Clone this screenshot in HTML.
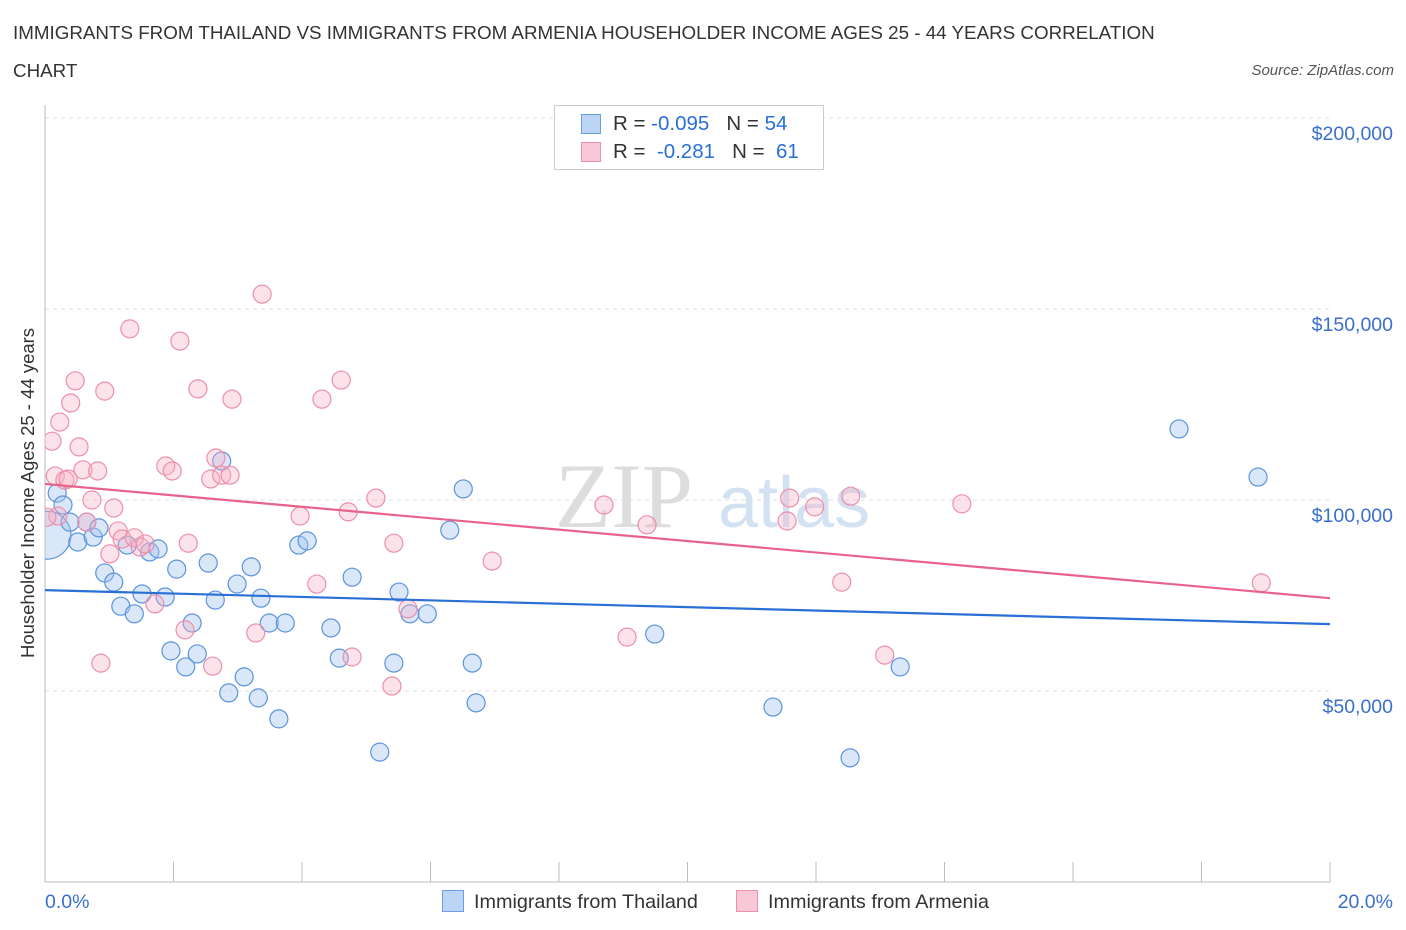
<!DOCTYPE html>
<html><head><meta charset="utf-8"><style>
body{margin:0;background:#fff;font-family:"Liberation Sans",sans-serif;}
#wrap{position:relative;width:1406px;height:930px;overflow:hidden;}
.t{position:absolute;white-space:nowrap;}
</style></head><body>
<div id="wrap">
<div class="t" style="left:13px;top:14px;font-size:18.8px;color:#333;line-height:38px;">IMMIGRANTS FROM THAILAND VS IMMIGRANTS FROM ARMENIA HOUSEHOLDER INCOME AGES 25 - 44 YEARS CORRELATION<br>CHART</div>
<div class="t" style="right:12px;top:62px;font-size:15px;font-style:italic;color:#555;">Source: ZipAtlas.com</div>
<svg id="svg" width="1406" height="930" style="position:absolute;left:0;top:0"></svg>
</div>
<script>
const blueX=[.03,.19,.28,.39,.51,.65,.75,.84,.93,1.07,1.18,1.28,1.39,1.51,1.63,1.76,1.87,1.96,2.05,2.19,2.29,2.37,2.54,2.65,2.75,2.86,2.99,3.10,3.21,3.32,3.36,3.49,3.64,3.74,3.95,4.08,4.45,4.58,4.78,5.21,5.43,5.51,5.68,5.95,6.30,6.51,6.65,6.71,9.49,11.33,12.53,13.31,17.65,18.88];
const blueY=[90.8,101.8,98.7,94.2,89.0,94.2,90.3,92.7,80.9,78.5,72.2,88.2,70.2,75.4,86.4,87.2,74.6,60.5,81.9,56.3,67.8,59.7,83.5,73.8,110.2,49.5,78.0,53.7,82.5,48.2,74.3,67.8,42.7,67.8,88.2,89.3,66.5,58.6,79.8,34.0,57.3,75.9,70.2,70.2,92.1,102.9,57.3,46.9,64.9,45.8,32.5,56.3,118.6,106.0];
const pinkX=[.11,.16,.20,.23,.31,.36,.40,.47,.53,.59,.65,.73,.82,.87,.93,1.01,1.07,1.14,1.20,1.32,1.39,1.48,1.56,1.71,1.88,1.98,2.10,2.18,2.23,2.38,2.58,2.61,2.66,2.75,2.88,2.91,3.28,3.38,3.97,4.23,4.31,4.61,4.72,4.78,5.15,5.40,5.43,5.65,6.96,8.70,9.06,9.37,11.55,11.59,11.98,12.40,12.54,13.07,14.27,18.93,0.03];
const pinkY=[115.4,106.3,95.8,120.4,105.2,105.5,125.4,131.2,113.9,107.9,94.2,100,107.6,57.3,128.5,85.9,97.9,91.9,89.8,144.8,90.1,87.7,88.5,72.8,108.9,107.6,141.6,66.0,88.7,129.1,105.5,56.5,111.0,106.5,106.5,126.4,65.2,153.9,95.8,78.0,126.4,131.4,96.9,58.9,100.5,51.3,88.7,71.5,84.0,98.7,64.1,93.5,94.5,100.5,98.2,78.5,101.0,59.4,99.0,78.3,95.5];
const blueTrend=[76.4,67.5];
const pinkTrend=[104.2,74.3];
const yTicks=[50,100,150,200];
const yTickLabels=["$50,000","$100,000","$150,000","$200,000"];
const xTickLabels=["0.0%","20.0%"];

const X=p=>45+p*64.25;
const Y=k=>500-(k-100)*191/50;
const svg=document.getElementById('svg');
const NS='http://www.w3.org/2000/svg';
function mk(tag,a,p){const e=document.createElementNS(NS,tag);for(const k in a)e.setAttribute(k,a[k]);(p||svg).appendChild(e);return e;}

let w1=mk('text',{x:555,y:527,'font-size':92,'font-family':'Liberation Serif',fill:'#ddd'});w1.textContent='ZIP';


let w2=mk('text',{x:718,y:527,'font-size':72,'font-family':'Liberation Sans',fill:'#d3e2f3'});w2.textContent='atlas';



yTicks.forEach((v,i)=>{
 const g=mk('line',{x1:45,x2:1330,y1:Y(v),y2:Y(v),stroke:'#ddd','stroke-dasharray':'4,4'});
 
 
 const t=mk('text',{x:1393,y:Y(v)+22,'text-anchor':'end','font-size':19.5,fill:'#3a6fcc'});
 t.textContent=yTickLabels[i];
 
 
});
const ax=mk('line',{x1:45,x2:45,y1:105,y2:882,stroke:'#bbb'});


const bx=mk('line',{x1:45,x2:1330,y1:882,y2:882,stroke:'#bbb'});


for(let i=0;i<=10;i++){const xx=45+i*128.5;const tk=mk('line',{x1:xx,x2:xx,y1:862,y2:882,stroke:'#bbb'});
 
 }
[[45,'start'],[1393,'end']].forEach((d,i)=>{const t=mk('text',{x:d[0],y:908,'text-anchor':d[1],'font-size':19.5,fill:'#3a6fcc'});t.textContent=xTickLabels[i];
 
 });
const yt=mk('text',{transform:'translate(34,493) rotate(-90)','text-anchor':'middle','font-size':18.5,fill:'#333'});yt.textContent='Householder Income Ages 25 - 44 years';



const clip=mk('clipPath',{id:'cp'});mk('rect',{x:45,y:100,width:1300,height:782},clip);
const gp=mk('g',{'clip-path':'url(#cp)'});


blueX.forEach((x,i)=>{const c=mk('circle',{cx:X(x),cy:Y(blueY[i]),r:i==0?24:9,fill:'rgba(160,196,240,0.4)',stroke:'#5b93dd','stroke-width':1.2},gp);
 
 });
pinkX.forEach((x,i)=>{const c=mk('circle',{cx:X(x),cy:Y(pinkY[i]),r:9,fill:'rgba(245,175,195,0.35)',stroke:'#ec8fab','stroke-width':1.2},gp);
 
 });
const l1=mk('line',{x1:X(0),x2:X(20),y1:Y(blueTrend[0]),y2:Y(blueTrend[1]),stroke:'#2a6fd6','stroke-width':2.2});


const l2=mk('line',{x1:X(0),x2:X(20),y1:Y(pinkTrend[0]),y2:Y(pinkTrend[1]),stroke:'#e8628c','stroke-width':2.2});


</script>
<div class="t" style="left:554px;top:105px;width:268px;height:63px;border:1px solid #ccc;background:#fff;font-size:20.5px;color:#333;">
 <div style="position:absolute;left:26px;top:8px;width:18px;height:18px;background:#bcd5f5;border:1px solid #6a9ee0"></div>
 <div style="position:absolute;left:58px;top:6px">R = <span style="color:#2a6fd6">-0.095</span>&nbsp;&nbsp;&nbsp;N = <span style="color:#2a6fd6">54</span></div>
 <div style="position:absolute;left:26px;top:36px;width:18px;height:18px;background:#f8c8d6;border:1px solid #ec8fab"></div>
 <div style="position:absolute;left:58px;top:34px">R = &nbsp;<span style="color:#2a6fd6">-0.281</span>&nbsp;&nbsp;&nbsp;N = &nbsp;<span style="color:#2a6fd6">61</span></div>
</div>
<div class="t" style="left:442px;top:890px;font-size:19.8px;color:#333;">
 <span style="display:inline-block;width:20px;height:20px;background:#bcd5f5;border:1px solid #6a9ee0;vertical-align:-4px;margin-right:10px"></span>Immigrants from Thailand</div>
<div class="t" style="left:736px;top:890px;font-size:19.8px;color:#333;">
 <span style="display:inline-block;width:20px;height:20px;background:#f8c8d6;border:1px solid #ec8fab;vertical-align:-4px;margin-right:10px"></span>Immigrants from Armenia</div>
</body></html>
